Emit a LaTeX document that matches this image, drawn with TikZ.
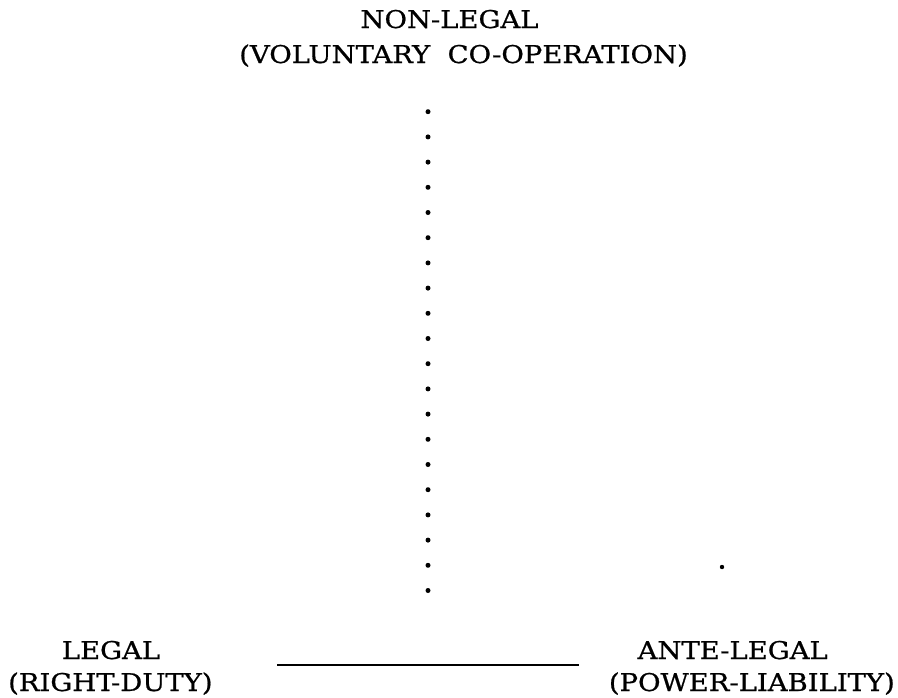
\documentclass[tikz,border=0pt]{standalone}
\usepackage{fontspec}
\setmainfont[FakeStretch=1.12,FakeBold=0.8]{DejaVu Serif}
\begin{document}
\begin{tikzpicture}[x=1pt,y=-1pt,
  lbl/.style={inner sep=0pt,font=\fontsize{24.5}{28}\selectfont},
  dotmark/.style={fill=black,circle,inner sep=0pt,minimum size=5pt}]
\useasboundingbox (0,0) rectangle (898,697);
\node[lbl,anchor=base] (nl) at (449.5,28) {NON-LEGAL};
\node[lbl,anchor=base] (vc) at (463.5,63) {(VOLUNTARY\ \ CO-OPERATION)};
\foreach \i in {0,...,19} {
  \node[dotmark] (d\i) at (428,{111.7+\i*25.2}) {};
}
\node[dotmark,minimum size=4.4pt] (stray) at (722,567) {};
\node[lbl,anchor=base] (lg) at (111,659) {LEGAL};
\node[lbl,anchor=base west] (rd) at (8,691) {(RIGHT-DUTY)};
\node[lbl,anchor=base east] (al) at (828,659) {ANTE-LEGAL};
\node[lbl,anchor=base east] (pl) at (895,691) {(POWER-LIABILITY)};
\coordinate (ls) at (277,665);
\coordinate (le) at (579,665);
\draw[line width=2.2pt] (ls) -- (le);
\end{tikzpicture}
\end{document}
